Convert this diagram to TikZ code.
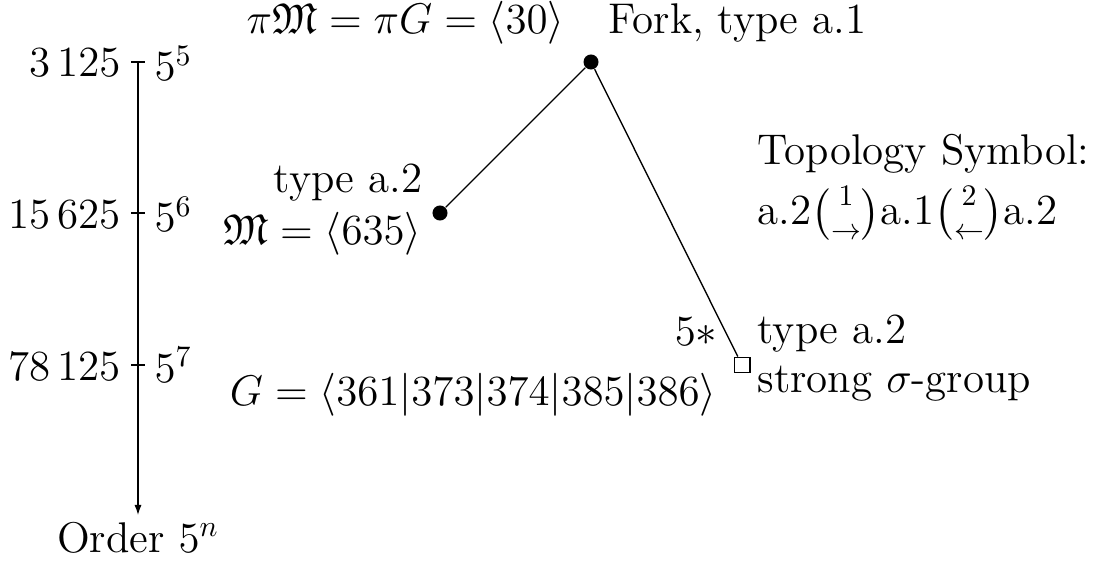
\documentclass[tikz,border=0pt]{standalone}
\usepackage{amsmath,amssymb}
\usetikzlibrary{arrows.meta}
\begin{document}
\begin{tikzpicture}[x=0.01178cm,y=-0.01178cm,
  lab/.style={inner sep=0pt,font=\Large},
  vert/.style={circle,fill=black,inner sep=0pt,minimum size=0.177cm},
  sqv/.style={rectangle,draw=black,fill=white,inner sep=0pt,minimum size=0.186cm,line width=0.4pt},
  edgeline/.style={line width=0.45pt},
  tickline/.style={line width=0.4pt}]
\useasboundingbox (0,0) rectangle (1094,561);
% axis
\coordinate (atop) at (138,62);
\coordinate (abot) at (138,515);
\draw[tickline,-{Latex[length=0.12cm,width=0.085cm]}] (atop) -- (abot);
\foreach \y/\n in {62/a,213/b,365/c}{
  \coordinate (t\n l) at (131,\y);
  \coordinate (t\n r) at (145,\y);
  \draw[tickline] (t\n l) -- (t\n r);
}
\node[lab,anchor=base east] (l1) at (121,77) {$3\,125$};
\node[lab,anchor=base west] (r1) at (154,81) {$5^5$};
\node[lab,anchor=base east] (l2) at (121,228) {$15\,625$};
\node[lab,anchor=base west] (r2) at (154,232) {$5^6$};
\node[lab,anchor=base east] (l3) at (121,380) {$78\,125$};
\node[lab,anchor=base west] (r3) at (154,382) {$5^7$};
\node[lab,anchor=base] (ord) at (138,552) {Order $5^n$};
% tree
\node[vert] (fork) at (591,62) {};
\node[vert] (m) at (440,213) {};
\node[sqv] (g) at (742,365) {};
\draw[edgeline] (fork) -- (m);
\draw[edgeline] (fork) -- (g);
% labels
\node[lab,anchor=base east] (tl) at (565,34) {$\pi\mathfrak{M}=\pi G=\langle 30\rangle$};
\node[lab,anchor=base west] (tr) at (608,34) {Fork, type a.1};
\node[lab,anchor=base east] (ma) at (423,193) {type a.2};
\node[lab,anchor=base east] (mb) at (422,245) {$\mathfrak{M}=\langle 635\rangle$};
\node[lab,anchor=base east] (ga) at (717,405) {$G=\langle 361|373|374|385|386\rangle$};
\node[lab,anchor=base east] (gs) at (718,345) {$5*$};
\node[lab,anchor=base west] (gb) at (757,343) {type a.2};
\node[lab,anchor=base west] (gc) at (757,392) {strong $\sigma$-group};
\node[lab,anchor=base west] (ts) at (757,165) {Topology Symbol:};
\node[lab,anchor=base west] (tt) at (757,225) {a.2$\binom{1}{\rightarrow}$a.1$\binom{2}{\leftarrow}$a.2};
\end{tikzpicture}
\end{document}
